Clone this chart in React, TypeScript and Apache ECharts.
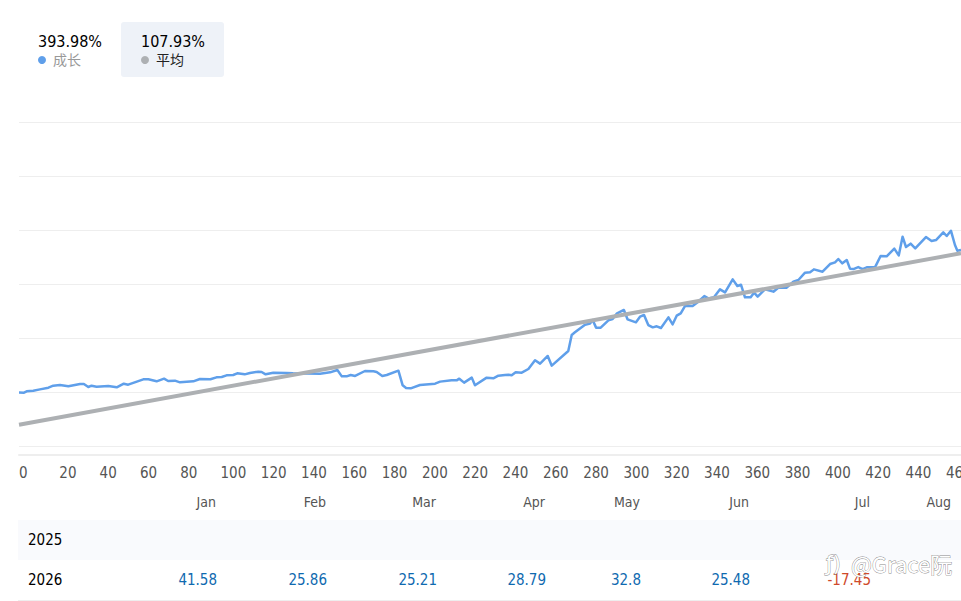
import React, { useEffect, useRef } from "react";
import * as echarts from "echarts";

const growthIndex = [0,2.5,3.8,7.1,10.4,14.6,17,20.3,24.5,30.3,32.2,34.4,36,38.5,44.3,48.5,52,54.2,61.7,64.2,68.3,72,74,77.4,79.9,86.5,89.8,95,98,100.6,103,106.3,108.3,112,114.6,118.8,120.4,122.4,126.2,132.8,136,149.4,154.4,158,160.2,162.6,164.6,166.8,171.7,175.9,177.5,180.3,182.5,188.3,190.4,192.1,194.4,199,206.5,209,214.7,217.2,218.5,220.9,224.7,226.3,232.1,235.4,237.9,241.2,242.9,244.5,246.5,249.5,252.8,256.1,258.6,262.4,264.4,272.6,274.3,275.9,280.9,283.4,284.7,286.4,288.7,292.5,294.6,296.6,300.2,302,306.2,308.2,310.2,312.3,314.5,316.5,318.6,322.3,324.4,326.4,328.4,330.5,334.3,337.1,340.1,342.1,344.9,347.9,350.4,354.2,356.5,358.3,360.3,363.1,364.8,366.6,370.2,374.4,376.8,381,384.3,386.8,390.1,392.6,394.5,398.8,402.5,405,406.6,408.6,410.8,412.4,414.1,416.5,418.7,420.7,424.8,427.6,430.6,434.4,436.6,438.5,440.2,442.5,444.8,450.1,452.9,455.1,458.7,460.4,462.5,464.5,465.7,467.5];
const growthValues = [-1,-1.2,1.2,2.5,4.9,8,11.7,13,10.5,14.8,14.8,9.3,11.7,9.9,11.1,8.6,15.4,13.6,23.5,23.5,19.8,24.7,20.4,21,17.9,19.8,24.1,23.5,27.2,27.8,30.9,31.5,34.6,32.7,35.2,37.7,37,32.7,35.8,35.2,34.6,34,36.4,40.8,29,29,31.5,29.7,38.9,38.3,37,29.7,31.5,39.5,12.4,7.4,6.8,13,15.5,19.2,21.6,21.6,24.7,17.3,26.6,12.4,26.6,25.3,30.3,31.5,32.1,30.9,36.4,35.8,42.6,58.7,52.5,66.7,48.8,76,105.6,110.5,124.7,126.6,133.4,119.2,119.2,132.8,135.2,145.1,151.9,134.6,129,139.5,142.6,124,119.7,121.6,118.5,138.2,125.3,141.3,145.6,159.2,159.2,167.2,177.7,173.4,175.3,190.1,184.5,208.6,196.3,198.7,175.3,175.3,183.9,176.5,190.1,185.8,193.2,193.2,204.3,207.4,221,221.6,227.1,222.8,237,240.1,246.3,238.2,244.4,228.4,227.7,231.4,227.7,230.8,230.8,251.8,251.2,265.4,253,287.6,268.5,274.7,266,287,279.6,281.4,295.6,288.9,298.7,272.2,261.7,263];
const averageIndex = [0, 467.5];
const averageValues = [-60.6, 256.9];

const months = ["Jan", "Feb", "Mar", "Apr", "May", "Jun", "Jul", "Aug"];
const monthRight = [216, 326, 436, 545, 640, 749, 870, 951];
const year2026 = ["41.58", "25.86", "25.21", "28.79", "32.8", "25.48", "-17.45"];

const BLUE = "#5f9fea";
const GREY = "#adb0b3";
const FONT = '"DejaVu Sans Condensed", "DejaVu Sans", sans-serif';
const CJK = '"Noto Sans CJK SC", sans-serif';

const txt = (x: number, y: number, text: string, size: number, fill: string, align = "left", family = FONT, z = 5) => ({
  type: "text",
  x,
  y,
  z,
  silent: true,
  style: { text, fontSize: size, fill, align, verticalAlign: "middle", fontFamily: family },
});

export default function App() {
  const ref = useRef<HTMLDivElement>(null);
  useEffect(() => {
    const chart = echarts.init(ref.current!, undefined, { renderer: "svg" });
    chart.setOption({
      animation: false,
      backgroundColor: "#fff",
      grid: { left: 19, right: 0, top: 122, bottom: 155, outerBoundsMode: "none" },
      xAxis: {
        type: "value",
        min: 0,
        max: 467.5,
        interval: 20,
        offset: 9,
        axisLine: { show: true, onZero: false, lineStyle: { color: "#eeeeee", width: 2 } },
        axisTick: { show: false },
        splitLine: { show: false },
        axisLabel: { color: "#555", fontSize: 15, fontFamily: FONT, align: "left", margin: 10, showMaxLabel: false },
      },
      yAxis: {
        type: "value",
        min: -100,
        max: 500,
        interval: 100,
        axisLine: { show: false },
        axisTick: { show: false },
        axisLabel: { show: false },
        splitLine: { lineStyle: { color: "#eeeeee", width: 1 } },
      },
      series: [
        {
          name: "成长",
          type: "line",
          z: 2,
          symbol: "none",
          lineStyle: { color: BLUE, width: 2.5, join: "round" },
          data: growthIndex.map((x, i) => [x, growthValues[i]]),
        },
        {
          name: "平均",
          type: "line",
          z: 3,
          symbol: "none",
          lineStyle: { color: GREY, width: 4 },
          data: averageIndex.map((x, i) => [x, averageValues[i]]),
        },
      ],
      graphic: [
        { type: "rect", z: 1, silent: true, shape: { x: 121, y: 22, width: 103, height: 55, r: 3 }, style: { fill: "#eef2f8" } },
        txt(38, 41.5, "393.98%", 16, "#000"),
        { type: "circle", z: 5, silent: true, shape: { cx: 42, cy: 60, r: 4 }, style: { fill: BLUE } },
        txt(53, 59, "成长", 14, "#999", "left", CJK),
        txt(141, 41.5, "107.93%", 16, "#000"),
        { type: "circle", z: 5, silent: true, shape: { cx: 145, cy: 60, r: 4 }, style: { fill: GREY } },
        txt(156, 59, "平均", 14, "#222", "left", CJK),
        ...months.map((m, i) => txt(monthRight[i], 502, m, 14, "#555", "right")),
        { type: "rect", z: 1, silent: true, shape: { x: 18, y: 520, width: 943, height: 40 }, style: { fill: "#f9fafd" } },
        { type: "line", z: 1, silent: true, shape: { x1: 18, y1: 600.5, x2: 961, y2: 600.5 }, style: { stroke: "#eeeeee", lineWidth: 1 } },
        txt(28, 540, "2025", 15, "#000"),
        txt(28, 580, "2026", 15, "#000"),
        ...year2026.map((v, i) => txt(monthRight[i] + 1, 580, v, 15, v.startsWith("-") ? "#cf4a2b" : "#0f6ab0", "right")),
        {
          type: "text", x: 826, y: 563, z: 9, silent: true,
          style: { text: "ƒ)", fontSize: 22, fill: "#fff", stroke: "#888", lineWidth: 0.8, verticalAlign: "middle", fontFamily: FONT },
        },
        {
          type: "text", x: 851, y: 563, z: 9, silent: true,
          style: { text: "@Grace阮", fontSize: 22, fill: "#fff", stroke: "#888", lineWidth: 0.8, verticalAlign: "middle", fontFamily: CJK },
        },
      ],
    });
    return () => chart.dispose();
  }, []);
  return <div ref={ref} style={{ position: "fixed", left: 0, top: 0, width: 961, height: 601, overflow: "hidden", background: "#fff" }} />;
}
